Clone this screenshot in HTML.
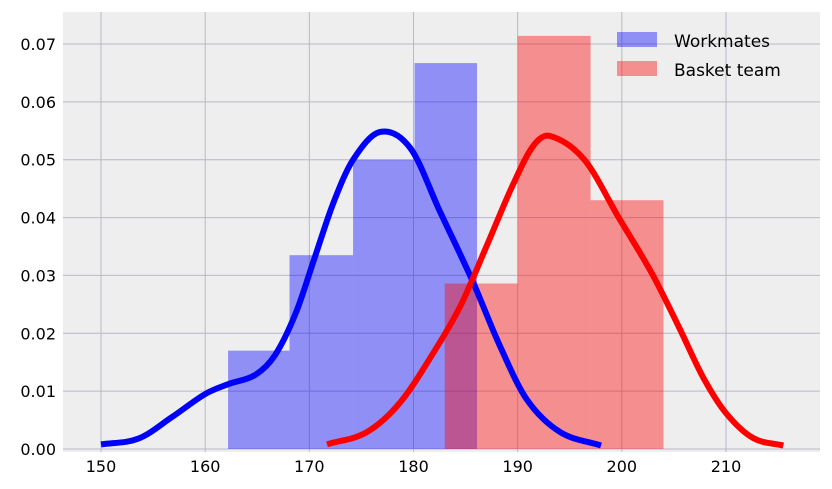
<!DOCTYPE html>
<html><head><meta charset="utf-8"><style>
body{margin:0;background:#fff;}
svg{display:block;font-family:"DejaVu Sans","Liberation Sans",sans-serif;}
</style></head><body>
<svg id="chart" width="832" height="489" viewBox="0 0 832 489" xmlns="http://www.w3.org/2000/svg">
<rect x="63" y="12" width="757" height="440" fill="#eeeeee"/>
<g id="grid"></g><g id="bars"></g><g id="lines"></g><g id="ticks"></g>
<g>
<rect x="617" y="32" width="40" height="15" fill="#0000ff" fill-opacity="0.4"/>
<text x="674" y="47" font-size="17" fill="#000">Workmates</text>
<rect x="617" y="61" width="40" height="15" fill="#ff0000" fill-opacity="0.4"/>
<text x="674" y="76" font-size="17" fill="#000">Basket team</text>
</g>
</svg>
<script>
const xTicks=[150,160,170,180,190,200,210];
const yTicks=[0,0.01,0.02,0.03,0.04,0.05,0.06,0.07];
const yTickLabels=["0.00","0.01","0.02","0.03","0.04","0.05","0.06","0.07"];
const workEdges=[162.2,168.1,174.2,180.1,186.1];
const workHeights=[0.017,0.0335,0.050,0.0667];
const basketEdges=[183,190,197,204];
const basketHeights=[0.0286,0.0714,0.043];
const workKdeX=[150,153.6,156.8,160,162.2,164.8,166.7,168.7,170.5,172.3,174.2,176.8,179.7,182.5,185.7,188.3,190.9,194.1,198];
const workKdeY=[0.0008,0.0018,0.0055,0.0095,0.0112,0.0128,0.0162,0.0235,0.033,0.0425,0.050,0.0548,0.052,0.0412,0.0289,0.0178,0.0085,0.0029,0.0006];
const basketKdeX=[171.7,175.5,178.7,181.9,184.5,187,189.5,191.5,193.1,196.4,199.7,202.9,205.5,207.8,210,212.6,215.5];
const basketKdeY=[0.0008,0.0029,0.008,0.0166,0.0247,0.035,0.0455,0.0524,0.0541,0.050,0.040,0.0303,0.021,0.0124,0.0062,0.0019,0.0006];
const NS="http://www.w3.org/2000/svg";
const X=v=>101+(v-150)*(625/60);
const Y=v=>449-v*(405/0.07);
function mk(t,a,p){const e=document.createElementNS(NS,t);for(const k in a)e.setAttribute(k,a[k]);document.getElementById(p).appendChild(e);return e;}
xTicks.forEach(t=>{
 const l=mk('line',{x1:X(t),x2:X(t),y1:12,y2:452,stroke:'#b8b8c8','stroke-width':1},'grid');
 
 
 const tx=mk('text',{x:X(t),y:472,'font-size':16,'text-anchor':'middle'},'ticks');tx.textContent=t;
 
 
});
yTicks.forEach((t,i)=>{
 const l=mk('line',{x1:63,x2:820,y1:Y(t),y2:Y(t),stroke:'#b8b8c8','stroke-width':1},'grid');
 
 
 const tx=mk('text',{x:56,y:Y(t)+6,'font-size':16,'text-anchor':'end'},'ticks');tx.textContent=yTickLabels[i];
 
 
});
workHeights.forEach((h,i)=>{
 const r=mk('rect',{x:X(workEdges[i]),y:Y(h),width:X(workEdges[i+1])-X(workEdges[i]),height:Y(0)-Y(h),fill:'#0000ff','fill-opacity':0.4},'bars');
 
 
});
basketHeights.forEach((h,i)=>{
 const r=mk('rect',{x:X(basketEdges[i]),y:Y(h),width:X(basketEdges[i+1])-X(basketEdges[i]),height:Y(0)-Y(h),fill:'#ff0000','fill-opacity':0.4},'bars');
 
 
});
function curve(xs,ys){
 const n=xs.length,m=[];
 for(let i=0;i<n;i++){
  const a=Math.max(0,i-1),b=Math.min(n-1,i+1);
  m.push((ys[b]-ys[a])/(xs[b]-xs[a]));
 }
 let d='M'+X(xs[0])+','+Y(ys[0]);
 for(let i=0;i<n-1;i++){
  const h=(xs[i+1]-xs[i])/3;
  d+=` C${X(xs[i]+h)},${Y(ys[i]+m[i]*h)} ${X(xs[i+1]-h)},${Y(ys[i+1]-m[i+1]*h)} ${X(xs[i+1])},${Y(ys[i+1])}`;
 }
 return d;
}
const l1=mk('path',{d:curve(workKdeX,workKdeY),fill:'none',stroke:'#0000ff','stroke-width':6},'lines');


const l2=mk('path',{d:curve(basketKdeX,basketKdeY),fill:'none',stroke:'#ff0000','stroke-width':6},'lines');


</script>
</body></html>
